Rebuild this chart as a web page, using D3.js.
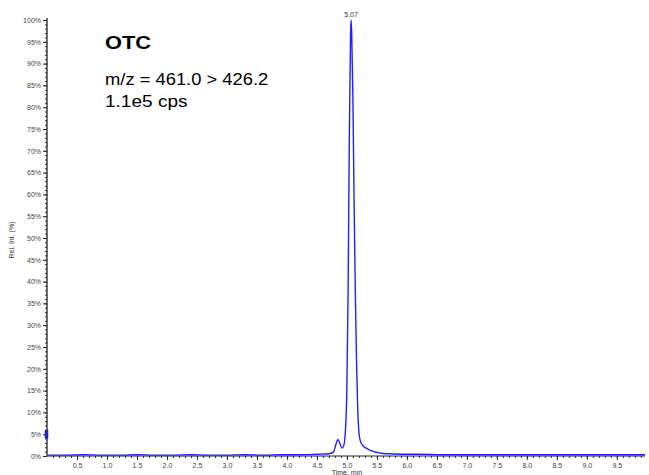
<!DOCTYPE html>
<html>
<head>
<meta charset="utf-8">
<script src="https://cdn.jsdelivr.net/npm/d3@7"></script>
<style>
  body { margin: 0; background: #fff; }
  svg { display: block; font-family: Arial, "Liberation Sans", sans-serif; }
  .tick text { fill: #444; font-size: 7px; }
</style>
</head>
<body>
<script>
// chromatogram trace (time in min, relative intensity in %)
var times = [0.02, 0.3, 0.6, 0.9, 1.2, 1.5, 1.8, 2.1, 2.4, 2.7, 3.0, 3.3, 3.6, 3.9, 4.2, 4.5, 4.7,
  4.78, 4.82, 4.85, 4.88, 4.92, 4.95, 4.98, 5.00, 5.02, 5.04, 5.06, 5.07, 5.08, 5.10, 5.12, 5.14,
  5.16, 5.18, 5.20, 5.23, 5.28, 5.35, 5.45, 5.55, 5.7, 5.9, 6.2, 6.6, 7.0, 7.5, 8.0, 8.5, 9.0, 9.5, 9.97];
var intensity = [0.2, 0.2, 0.3, 0.2, 0.2, 0.3, 0.2, 0.2, 0.3, 0.2, 0.2, 0.3, 0.2, 0.3, 0.3, 0.4, 0.5,
  1.0, 2.8, 3.8, 3.0, 1.8, 2.5, 7, 16, 38, 72, 96, 100, 97, 82, 58, 38,
  22, 11, 5.5, 3.2, 2.2, 1.6, 1.0, 0.7, 0.5, 0.4, 0.4, 0.3, 0.3, 0.3, 0.3, 0.3, 0.3, 0.3, 0.3];
var peakTime = 5.07;
var xTickValues = [0.5, 1.0, 1.5, 2.0, 2.5, 3.0, 3.5, 4.0, 4.5, 5.0, 5.5, 6.0, 6.5, 7.0, 7.5, 8.0, 8.5, 9.0, 9.5];
var yTickValues = [0, 5, 10, 15, 20, 25, 30, 35, 40, 45, 50, 55, 60, 65, 70, 75, 80, 85, 90, 95, 100];

var width = 649, height = 475;
var plotLeft = 47, plotRight = 645, plotTop = 20, plotBottom = 456;

var svg = d3.select("body").append("svg")
  .attr("width", width)
  .attr("height", height);

var x = d3.scaleLinear().domain([0, 9.97]).range([plotLeft, plotRight]);
var y = d3.scaleLinear().domain([0, 100]).range([plotBottom, plotTop]);

// minor ticks
var xMinor = d3.range(1, 100).map(function(d) { return d / 10; });
svg.append("g")
  .attr("transform", "translate(0," + plotBottom + ")")
  .call(d3.axisBottom(x).tickValues(xMinor).tickSize(2).tickFormat(""))
  .call(function(g) { g.select(".domain").remove(); g.selectAll("line").attr("stroke", "#333"); });
var yMinor = d3.range(0, 101);
svg.append("g")
  .attr("transform", "translate(" + plotLeft + ",0)")
  .call(d3.axisLeft(y).tickValues(yMinor).tickSize(2).tickFormat(""))
  .call(function(g) { g.select(".domain").remove(); g.selectAll("line").attr("stroke", "#333"); });

// major axes
svg.append("g")
  .attr("transform", "translate(0," + plotBottom + ")")
  .call(d3.axisBottom(x).tickValues(xTickValues).tickSize(4).tickPadding(3).tickFormat(d3.format(".1f")))
  .call(function(g) {
    g.select(".domain").attr("stroke", "#222").attr("d", "M" + plotLeft + ",0H" + plotRight);
    g.selectAll("line").attr("stroke", "#222");
  });
svg.append("g")
  .attr("transform", "translate(" + plotLeft + ",0)")
  .call(d3.axisLeft(y).tickValues(yTickValues).tickSize(4).tickPadding(2).tickFormat(function(d) { return d + "%"; }))
  .call(function(g) {
    g.select(".domain").attr("stroke", "#222").attr("stroke-width", 1.3).attr("d", "M0," + (plotTop - 2) + "V" + plotBottom);
    g.selectAll("line").attr("stroke", "#222");
  });

// trace
var line = d3.line()
  .x(function(d, i) { return x(times[i]); })
  .y(function(d) { return y(d); })
  .curve(d3.curveMonotoneX);
svg.append("path")
  .datum(intensity)
  .attr("d", line)
  .attr("fill", "none")
  .attr("stroke", "#1f1fff")
  .attr("stroke-width", 1.4);

// small marker on the y axis
svg.append("rect")
  .attr("x", plotLeft - 2)
  .attr("y", y(5) - 4)
  .attr("width", 3)
  .attr("height", 8)
  .attr("fill", "#1f1fff")
  .attr("stroke", "#222")
  .attr("stroke-width", 0.5);

// peak label
svg.append("text")
  .attr("x", x(peakTime))
  .attr("y", y(100) - 3)
  .attr("text-anchor", "middle")
  .attr("font-size", 7)
  .attr("fill", "#333")
  .text(peakTime.toFixed(2));

// axis titles
svg.append("text")
  .attr("x", x(5.0))
  .attr("y", 475)
  .attr("text-anchor", "middle")
  .attr("font-size", 7)
  .attr("fill", "#333")
  .text("Time, min");
svg.append("text")
  .attr("transform", "translate(14,240) rotate(-90)")
  .attr("text-anchor", "middle")
  .attr("font-size", 7)
  .attr("fill", "#333")
  .text("Rel. Int. (%)");

// annotation (source text is a bit wider than plain Arial)
svg.append("text")
  .attr("transform", "translate(105,49) scale(1.15,1)")
  .attr("font-size", 19).attr("font-weight", "bold")
  .text("OTC");
svg.append("text")
  .attr("transform", "translate(105,85) scale(1.08,1)")
  .attr("font-size", 17)
  .text("m/z = 461.0 > 426.2");
svg.append("text")
  .attr("transform", "translate(105,107) scale(1.12,1)")
  .attr("font-size", 17)
  .text("1.1e5 cps");
</script>
</body>
</html>
